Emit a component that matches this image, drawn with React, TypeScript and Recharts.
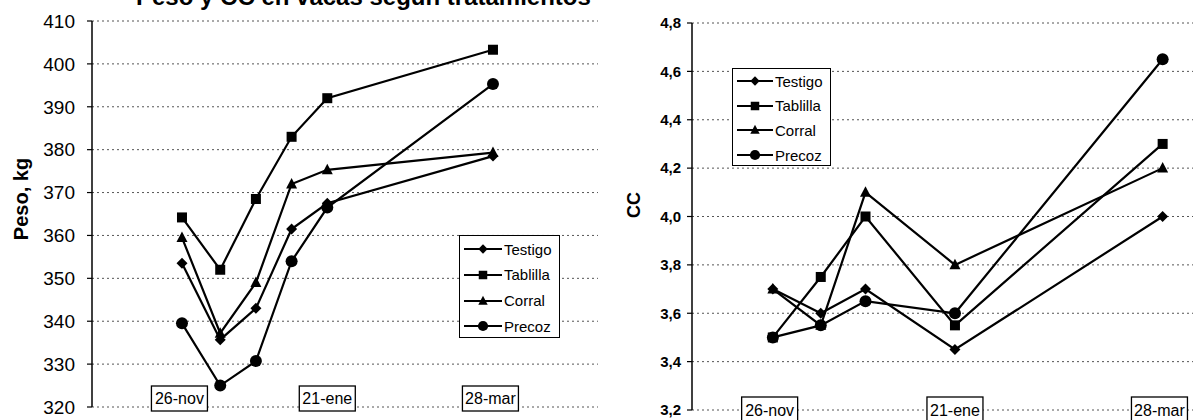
import type { FC } from "react";
import { CartesianGrid, Line, LineChart, XAxis, YAxis } from "recharts";

const FONT = '"Liberation Sans", Arial, Helvetica, sans-serif';

// series names and marker shapes (same order in both charts)
const SERIES_NAMES: string[] = ["Testigo", "Tablilla", "Corral", "Precoz"];
const SERIES_SHAPES: string[] = ["diamond", "square", "triangle", "circle"];

// left chart: peso (kg), x = days since 26-nov
const pesoDays: number[] = [0, 15, 29, 43, 57, 122];
const pesoTestigo: number[] = [353.5, 335.7, 343, 361.5, 367.5, 378.5];
const pesoTablilla: number[] = [364.2, 352, 368.5, 383, 392, 403.3];
const pesoCorral: number[] = [359.5, 337.2, 349, 372, 375.3, 379.3];
const pesoPrecoz: number[] = [339.5, 325, 330.7, 354, 366.5, 395.3];
const pesoTicks: number[] = [320, 330, 340, 350, 360, 370, 380, 390, 400, 410];

// right chart: condición corporal
const ccDays: number[] = [0, 15, 29, 57, 122];
const ccTestigo: number[] = [3.7, 3.6, 3.7, 3.45, 4.0];
const ccTablilla: number[] = [3.5, 3.75, 4.0, 3.55, 4.3];
const ccCorral: number[] = [3.7, 3.55, 4.1, 3.8, 4.2];
const ccPrecoz: number[] = [3.5, 3.55, 3.65, 3.6, 4.65];
const ccTicks: number[] = [3.2, 3.4, 3.6, 3.8, 4.0, 4.2, 4.4, 4.6, 4.8];

// date labels on the x axis
const dateTicks: number[] = [-1, 57, 121];
const dateLabels: string[] = ["26-nov", "21-ene", "28-mar"];

type Row = { day: number; [key: string]: number };

const buildRows = (days: number[], values: number[][]): Row[] =>
	days.map((day, i) => {
		const row: Row = { day };
		SERIES_NAMES.forEach((name, s) => {
			row[name] = values[s][i];
		});
		return row;
	});

const pesoData = buildRows(pesoDays, [
	pesoTestigo,
	pesoTablilla,
	pesoCorral,
	pesoPrecoz,
]);
const ccData = buildRows(ccDays, [ccTestigo, ccTablilla, ccCorral, ccPrecoz]);

type MarkerProps = { cx?: number; cy?: number; shape: string; k?: number };

const Marker: FC<MarkerProps> = ({ cx, cy, shape, k = 1 }) => {
	if (cx == null || cy == null) return null;
	if (shape === "diamond") {
		const s = 5.5 * k;
		return (
			<polygon
				points={`${cx},${cy - s} ${cx + s},${cy} ${cx},${cy + s} ${cx - s},${cy}`}
				fill="#000"
			/>
		);
	}
	if (shape === "square") {
		const s = 5 * k;
		return <rect x={cx - s} y={cy - s} width={2 * s} height={2 * s} fill="#000" />;
	}
	if (shape === "triangle") {
		const s = 5.5 * k;
		return (
			<polygon
				points={`${cx},${cy - s * 1.1} ${cx + s},${cy + s * 0.8} ${cx - s},${cy + s * 0.8}`}
				fill="#000"
			/>
		);
	}
	return <circle cx={cx} cy={cy} r={6 * k} fill="#000" />;
};

// boxed date label (looks like a text box sitting on the axis)
const DateTick = (props: any, top: number, h: number) => {
	const { x, y, payload } = props;
	const idx = dateTicks.indexOf(payload.value);
	const w = 56;
	return (
		<g key={`tick-${payload.value}`}>
			<rect
				x={x - w / 2}
				y={y + top}
				width={w}
				height={h}
				fill="#fff"
				stroke="#000"
				strokeWidth={1.3}
			/>
			<text
				x={x}
				y={y + top + h / 2 + 5.5}
				textAnchor="middle"
				fontSize={16}
				fontFamily={FONT}
				fill="#000"
			>
				{dateLabels[idx]}
			</text>
		</g>
	);
};

const lines = (chartKey: string) =>
	SERIES_NAMES.map((name, i) => (
		<Line
			key={`${chartKey}-${name}`}
			type="linear"
			dataKey={name}
			stroke="#000"
			strokeWidth={2.2}
			isAnimationActive={false}
			activeDot={false}
			dot={(p: any) => (
				<Marker
					key={`${chartKey}-${name}-${p.index}`}
					cx={p.cx}
					cy={p.cy}
					shape={SERIES_SHAPES[i]}
				/>
			)}
		/>
	));

type LegendProps = {
	left: number;
	top: number;
	width: number;
	height: number;
	firstY: number;
	gap: number;
	lineW: number;
};

const LegendBox: FC<LegendProps> = ({ left, top, width, height, firstY, gap, lineW }) => (
	<div
		style={{
			position: "absolute",
			left,
			top,
			width,
			height,
			border: "1.5px solid #000",
			background: "#fff",
			boxSizing: "border-box",
			fontFamily: FONT,
		}}
	>
		{SERIES_NAMES.map((name, i) => (
			<div
				key={name}
				style={{
					position: "absolute",
					left: 2,
					top: firstY + i * gap - 10,
					height: 20,
					display: "flex",
					alignItems: "center",
					whiteSpace: "nowrap",
				}}
			>
				<svg width={lineW + 4} height={20} style={{ display: "block" }}>
					<line x1={2} y1={10} x2={lineW + 2} y2={10} stroke="#000" strokeWidth={2} />
					<Marker cx={(lineW + 4) / 2} cy={10} shape={SERIES_SHAPES[i]} k={0.85} />
				</svg>
				<span style={{ fontSize: 15, color: "#000" }}>{name}</span>
			</div>
		))}
	</div>
);

export default function App() {
	return (
		<div
			style={{
				position: "absolute",
				left: 0,
				top: 0,
				width: 1193,
				height: 420,
				background: "#fff",
				overflow: "hidden",
				fontFamily: FONT,
			}}
		>
			<svg
				width={1193}
				height={420}
				style={{ position: "absolute", left: 0, top: 0 }}
			>
				<text x={136} y={5} fontSize={24} fontWeight="bold" fontFamily={FONT} fill="#000">
					Peso y CC en vacas según tratamientos
				</text>
				<text
					x={0}
					y={0}
					transform="translate(28, 199) rotate(-90)"
					textAnchor="middle"
					fontSize={20}
					fontWeight="bold"
					fontFamily={FONT}
					fill="#000"
				>
					Peso, kg
				</text>
				<text
					x={0}
					y={0}
					transform="translate(640, 205) rotate(-90)"
					textAnchor="middle"
					fontSize={18}
					fontWeight="bold"
					fontFamily={FONT}
					fill="#000"
				>
					CC
				</text>
			</svg>

			<div style={{ position: "absolute", left: 0, top: 0 }}>
				<LineChart
					width={600}
					height={420}
					data={pesoData}
					margin={{ top: 21, right: 2, bottom: 0, left: 0 }}
				>
					<CartesianGrid
						horizontal
						vertical={false}
						stroke="#555"
						strokeDasharray="2 3"
					/>
					<XAxis
						dataKey="day"
						type="number"
						domain={[-35.3, 163.2]}
						ticks={dateTicks}
						interval={0}
						axisLine={false}
						tickLine={false}
						tickSize={0}
						tickMargin={0}
						height={13}
						tick={(p: any) => DateTick(p, -21, 25)}
					/>
					<YAxis
						type="number"
						domain={[320, 410]}
						ticks={pesoTicks}
						interval={0}
						width={92}
						axisLine={{ stroke: "#000", strokeWidth: 1.5 }}
						tickLine={{ stroke: "#000", strokeWidth: 1.2 }}
						tickSize={5}
						tickMargin={12}
						tick={{ fontSize: 19, fill: "#000", fontFamily: FONT }}
					/>
					{lines("peso")}
				</LineChart>
			</div>

			<div style={{ position: "absolute", left: 600, top: 0 }}>
				<LineChart
					width={593}
					height={420}
					data={ccData}
					margin={{ top: 23, right: 0, bottom: 0, left: 0 }}
				>
					<CartesianGrid
						horizontal
						vertical={false}
						stroke="#555"
						strokeDasharray="2 3"
					/>
					<XAxis
						dataKey="day"
						type="number"
						domain={[-25.3, 131.5]}
						ticks={dateTicks}
						interval={0}
						axisLine={false}
						tickLine={false}
						tickSize={0}
						tickMargin={0}
						height={10}
						tick={(p: any) => DateTick(p, -13, 26)}
					/>
					<YAxis
						type="number"
						domain={[3.2, 4.8]}
						ticks={ccTicks}
						interval={0}
						width={92}
						axisLine={{ stroke: "#000", strokeWidth: 1.5 }}
						tickLine={{ stroke: "#000", strokeWidth: 1.2 }}
						tickSize={5}
						tickMargin={6}
						tickFormatter={(v: number) => v.toFixed(1).replace(".", ",")}
						tick={{ fontSize: 15, fill: "#000", fontFamily: FONT, fontWeight: "bold" }}
					/>
					{lines("cc")}
				</LineChart>
			</div>

			<LegendBox left={459} top={235} width={101} height={103} firstY={13} gap={25.8} lineW={38} />
			<LegendBox left={732} top={68} width={99} height={98} firstY={12} gap={24.7} lineW={36} />
		</div>
	);
}
